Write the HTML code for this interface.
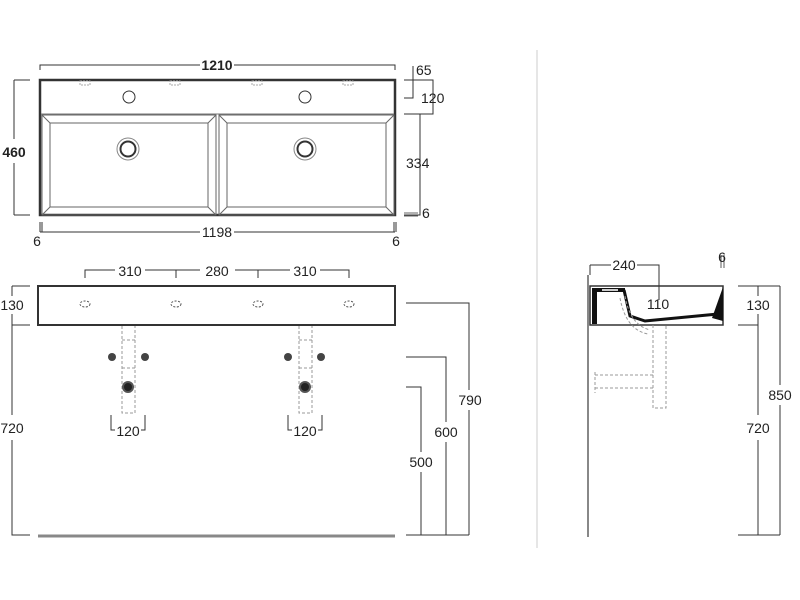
<!DOCTYPE html>
<html><head><style>body{margin:0;background:#fff}svg{display:block}text{font-family:"Liberation Sans",sans-serif;font-size:14px;fill:#222}</style></head><body>
<svg width="800" height="600" viewBox="0 0 800 600">
<rect width="800" height="600" fill="#fff"/>
<g stroke="#333" fill="none" stroke-width="1">
<!-- top view -->
<rect x="40" y="80" width="355" height="135" stroke-width="2.5"/>
<line x1="41" y1="114" x2="394" y2="114" stroke="#777"/>
<rect x="42" y="115" width="174" height="100" stroke="#666"/>
<rect x="50" y="123" width="158" height="84" stroke="#666"/>
<line x1="42" y1="115" x2="50" y2="123" stroke="#666"/><line x1="216" y1="115" x2="208" y2="123" stroke="#666"/>
<line x1="42" y1="215" x2="50" y2="207" stroke="#666"/><line x1="216" y1="215" x2="208" y2="207" stroke="#666"/>
<rect x="219" y="115" width="175" height="100" stroke="#666"/>
<rect x="227" y="123" width="159" height="84" stroke="#666"/>
<line x1="219" y1="115" x2="227" y2="123" stroke="#666"/><line x1="394" y1="115" x2="386" y2="123" stroke="#666"/>
<line x1="219" y1="215" x2="227" y2="207" stroke="#666"/><line x1="394" y1="215" x2="386" y2="207" stroke="#666"/>
<circle cx="129" cy="97" r="6"/><circle cx="305" cy="97" r="6"/>
<circle cx="128" cy="149" r="11" stroke="#888"/><circle cx="128" cy="149" r="7.5" stroke-width="2"/>
<circle cx="305" cy="149" r="11" stroke="#888"/><circle cx="305" cy="149" r="7.5" stroke-width="2"/>
<g stroke="#aaa" stroke-dasharray="2,1"><rect x="80" y="81" width="10" height="4"/><rect x="170" y="81" width="10" height="4"/><rect x="252" y="81" width="10" height="4"/><rect x="343" y="81" width="10" height="4"/></g>
<!-- top dims -->
<path d="M40 70V65H200M234 65H395V70"/>
<path d="M14 80H30M14 215H30M14 80V139M14 163V215" />
<path d="M413 66V98H404"/>
<path d="M404 80H433V114H404"/>
<path d="M404 114H420V215H404"/>
<path d="M404 213H418M404 216H418" stroke-width="0.8"/>
<path d="M40 222V232M42 222V232M394 222V232M396 222V232M40 232H200M234 232H395"/>
<!-- front view -->
<rect x="38" y="286" width="357" height="39" stroke-width="2"/>
<path d="M85 278V270H115M145 270H200M235 270H290M320 270H349V278M176 270V278M258 270V278"/>
<g stroke="#555" stroke-dasharray="2,1.5"><ellipse cx="85" cy="304" rx="5" ry="3"/><ellipse cx="176" cy="304" rx="5" ry="3"/><ellipse cx="258" cy="304" rx="5" ry="3"/><ellipse cx="349" cy="304" rx="5" ry="3"/></g>
<path d="M12 286H30M12 325H30M12 286V296M12 314V415M12 440V535H30"/>
<g stroke="#999" stroke-dasharray="3,2">
<path d="M122 326V413H135V326M122 340H135M122 368H135"/>
<path d="M299 326V413H312V326M299 340H312M299 368H312"/>
</g>
<g fill="#444" stroke="none"><circle cx="112" cy="357" r="4"/><circle cx="145" cy="357" r="4"/><circle cx="288" cy="357" r="4"/><circle cx="321" cy="357" r="4"/></g>
<circle cx="128" cy="387" r="5" fill="#222" stroke="#555" stroke-width="2"/>
<circle cx="305" cy="387" r="5" fill="#222" stroke="#555" stroke-width="2"/>
<path d="M111 415V430H115M145 415V430H141M288 415V430H292M322 415V430H318"/>
<line x1="38" y1="536" x2="395" y2="536" stroke="#888" stroke-width="3"/>
<path d="M406 303H469V390M469 410V535M406 357H446V422M446 442V535M406 387H421V452M421 472V535M406 535H469"/>
<!-- divider -->
<line x1="537" y1="50" x2="537" y2="548" stroke="#ccc"/>
<!-- side view -->
<line x1="588" y1="275" x2="588" y2="537" stroke="#888" stroke-width="2"/>
<path d="M590 286H723V325H590Z" stroke-width="1.5"/>
<rect x="592" y="288" width="5" height="36" fill="#111" stroke="none"/>
<rect x="597" y="288" width="28" height="4" fill="#111" stroke="none"/>
<rect x="602" y="289" width="16" height="2" fill="#ccc" stroke="none"/>
<path d="M624 290L630 316L645 321L718 314" stroke="#111" stroke-width="3"/>
<path d="M723 287L712 318L723 321Z" fill="#111" stroke="none"/>
<path d="M590 265V275M590 265H611M637 265H659V300"/>
<path d="M721 255V268M724 255V268" stroke-width="0.8"/>
<g stroke="#999" stroke-dasharray="3,2">
<path d="M625 296Q630 325 650 330"/><path d="M620 298Q626 330 648 334"/>
<path d="M653 325V408H666V325"/><path d="M595 375H655M595 388H655M595 372V393"/>
</g>
<path d="M738 286H780M738 325H758M758 286V296M758 314V415M758 440V535M780 286V385M780 405V535M738 535H780"/>
</g>
<text x="217" y="70" text-anchor="middle" font-weight="bold">1210</text>
<text x="14" y="157" text-anchor="middle" font-weight="bold">460</text>
<text x="416" y="75">65</text>
<text x="421" y="103">120</text>
<text x="406" y="168">334</text>
<text x="422" y="218">6</text>
<text x="217" y="237" text-anchor="middle">1198</text>
<text x="37" y="246" text-anchor="middle">6</text>
<text x="396" y="246" text-anchor="middle">6</text>
<text x="130" y="276" text-anchor="middle">310</text>
<text x="217" y="276" text-anchor="middle">280</text>
<text x="305" y="276" text-anchor="middle">310</text>
<text x="12" y="310" text-anchor="middle">130</text>
<text x="12" y="433" text-anchor="middle">720</text>
<text x="128" y="436" text-anchor="middle">120</text>
<text x="305" y="436" text-anchor="middle">120</text>
<text x="470" y="405" text-anchor="middle">790</text>
<text x="446" y="437" text-anchor="middle">600</text>
<text x="421" y="467" text-anchor="middle">500</text>
<text x="624" y="270" text-anchor="middle">240</text>
<text x="722" y="262" text-anchor="middle">6</text>
<text x="658" y="309" text-anchor="middle">110</text>
<text x="758" y="310" text-anchor="middle">130</text>
<text x="780" y="400" text-anchor="middle">850</text>
<text x="758" y="433" text-anchor="middle">720</text>
</svg>
</body></html>
